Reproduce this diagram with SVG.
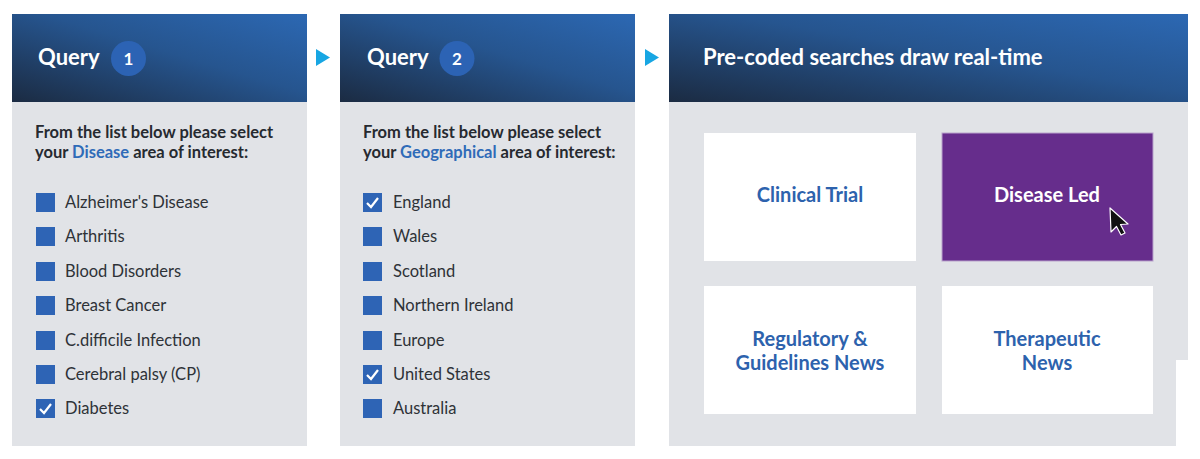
<svg xmlns="http://www.w3.org/2000/svg" width="1200" height="459" viewBox="0 0 1200 459">
<defs>
<linearGradient id="hg" x1="0" y1="1" x2="1" y2="0">
<stop offset="0" stop-color="#1b2b42"/>
<stop offset="0.55" stop-color="#26558f"/>
<stop offset="1" stop-color="#2c68b3"/>
</linearGradient>
<g id="chk"><rect width="19" height="19" fill="#2e64b5"/><path d="M4 10 L8 14 L15 5" fill="none" stroke="#fff" stroke-width="2.2"/></g>
<rect id="box" width="19" height="19" fill="#2e64b5"/>
</defs>
<style>
.hd{font-family:Lato,"Liberation Sans",sans-serif;font-weight:700;font-size:22px;fill:#fff}
.num{font-family:Lato,"Liberation Sans",sans-serif;font-weight:700;font-size:17px;fill:#fff}
.intro{font-family:Lato,"Liberation Sans",sans-serif;font-weight:700;font-size:16.5px;fill:#262a30}
.hl{fill:#2f6bb8}
.it{font-family:Lato,"Liberation Sans",sans-serif;font-size:16.5px;fill:#2e3237}
.card{font-family:Lato,"Liberation Sans",sans-serif;font-weight:700;font-size:20px;fill:#2d62ad;text-anchor:middle}
.grey{fill:#e1e3e7}
.arrow{fill:#17a6e3}
</style>
<rect width="1200" height="459" fill="#fff"/>

<g id="panel1">
<rect class="grey" x="12" y="102" width="295" height="344"/>
<rect x="12" y="14" width="295" height="88" fill="url(#hg)"/>
<text class="hd" x="38" y="65">Query</text>
<circle cx="128.5" cy="58.5" r="17.5" fill="#2c63b4"/>
<text class="num" x="128.5" y="64.5" text-anchor="middle">1</text>
<text class="intro" x="35" y="138">From the list below please select</text>
<text class="intro" x="35" y="158">your <tspan class="hl">Disease</tspan> area of interest:</text>
<use href="#box" x="36" y="193"/><text class="it" x="65" y="208">Alzheimer's Disease</text>
<use href="#box" x="36" y="227"/><text class="it" x="65" y="242">Arthritis</text>
<use href="#box" x="36" y="262"/><text class="it" x="65" y="277">Blood Disorders</text>
<use href="#box" x="36" y="296"/><text class="it" x="65" y="311">Breast Cancer</text>
<use href="#box" x="36" y="331"/><text class="it" x="65" y="346">C.difficile Infection</text>
<use href="#box" x="36" y="365"/><text class="it" x="65" y="380">Cerebral palsy (CP)</text>
<use href="#chk" x="36" y="399"/><text class="it" x="65" y="414">Diabetes</text>
</g>

<g id="panel2">
<rect class="grey" x="340" y="102" width="295" height="344"/>
<rect x="340" y="14" width="295" height="88" fill="url(#hg)"/>
<text class="hd" x="367" y="65">Query</text>
<circle cx="457" cy="58.5" r="17.5" fill="#2c63b4"/>
<text class="num" x="457" y="64.5" text-anchor="middle">2</text>
<text class="intro" x="363" y="138">From the list below please select</text>
<text class="intro" x="363" y="158">your <tspan class="hl">Geographical</tspan> area of interest:</text>
<use href="#chk" x="363" y="193"/><text class="it" x="393" y="208">England</text>
<use href="#box" x="363" y="227"/><text class="it" x="393" y="242">Wales</text>
<use href="#box" x="363" y="262"/><text class="it" x="393" y="277">Scotland</text>
<use href="#box" x="363" y="296"/><text class="it" x="393" y="311">Northern Ireland</text>
<use href="#box" x="363" y="331"/><text class="it" x="393" y="346">Europe</text>
<use href="#chk" x="363" y="365"/><text class="it" x="393" y="380">United States</text>
<use href="#box" x="363" y="399"/><text class="it" x="393" y="414">Australia</text>
</g>

<g id="panel3">
<path class="grey" d="M669 102 H1188 V360 H1176 V446 H669 Z"/>
<rect x="669" y="14" width="519" height="88" fill="url(#hg)"/>
<text class="hd" x="703" y="65">Pre-coded searches draw real-time</text>
</g>

<g id="card-clinical">
<rect x="704" y="133" width="212" height="128" fill="#fff"/>
<text class="card" x="810" y="202">Clinical Trial</text>
</g>
<g id="card-disease">
<rect x="942" y="133" width="211" height="128" fill="#662d8c" stroke="#b9a3cc" stroke-width="1"/>
<text class="card" x="1047" y="202" style="fill:#fff">Disease Led</text>
<path d="M1110 208 L1111 232 L1116.5 226.5 L1121 235 L1125 233 L1120.5 224.5 L1128 224 Z" fill="#111" stroke="#fff" stroke-width="1.2" stroke-linejoin="round"/>
</g>
<g id="card-regulatory">
<rect x="704" y="286" width="212" height="128" fill="#fff"/>
<text class="card" x="810" y="346">Regulatory &amp;</text>
<text class="card" x="810" y="370">Guidelines News</text>
</g>
<g id="card-therapeutic">
<rect x="942" y="286" width="211" height="128" fill="#fff"/>
<text class="card" x="1047" y="346">Therapeutic</text>
<text class="card" x="1047" y="370">News</text>
</g>

<g id="connectors">
<path class="arrow" d="M316 49 L330 57.5 L316 66 Z"/>
<path class="arrow" d="M645 49 L659 57.5 L645 66 Z"/>
</g>
</svg>
